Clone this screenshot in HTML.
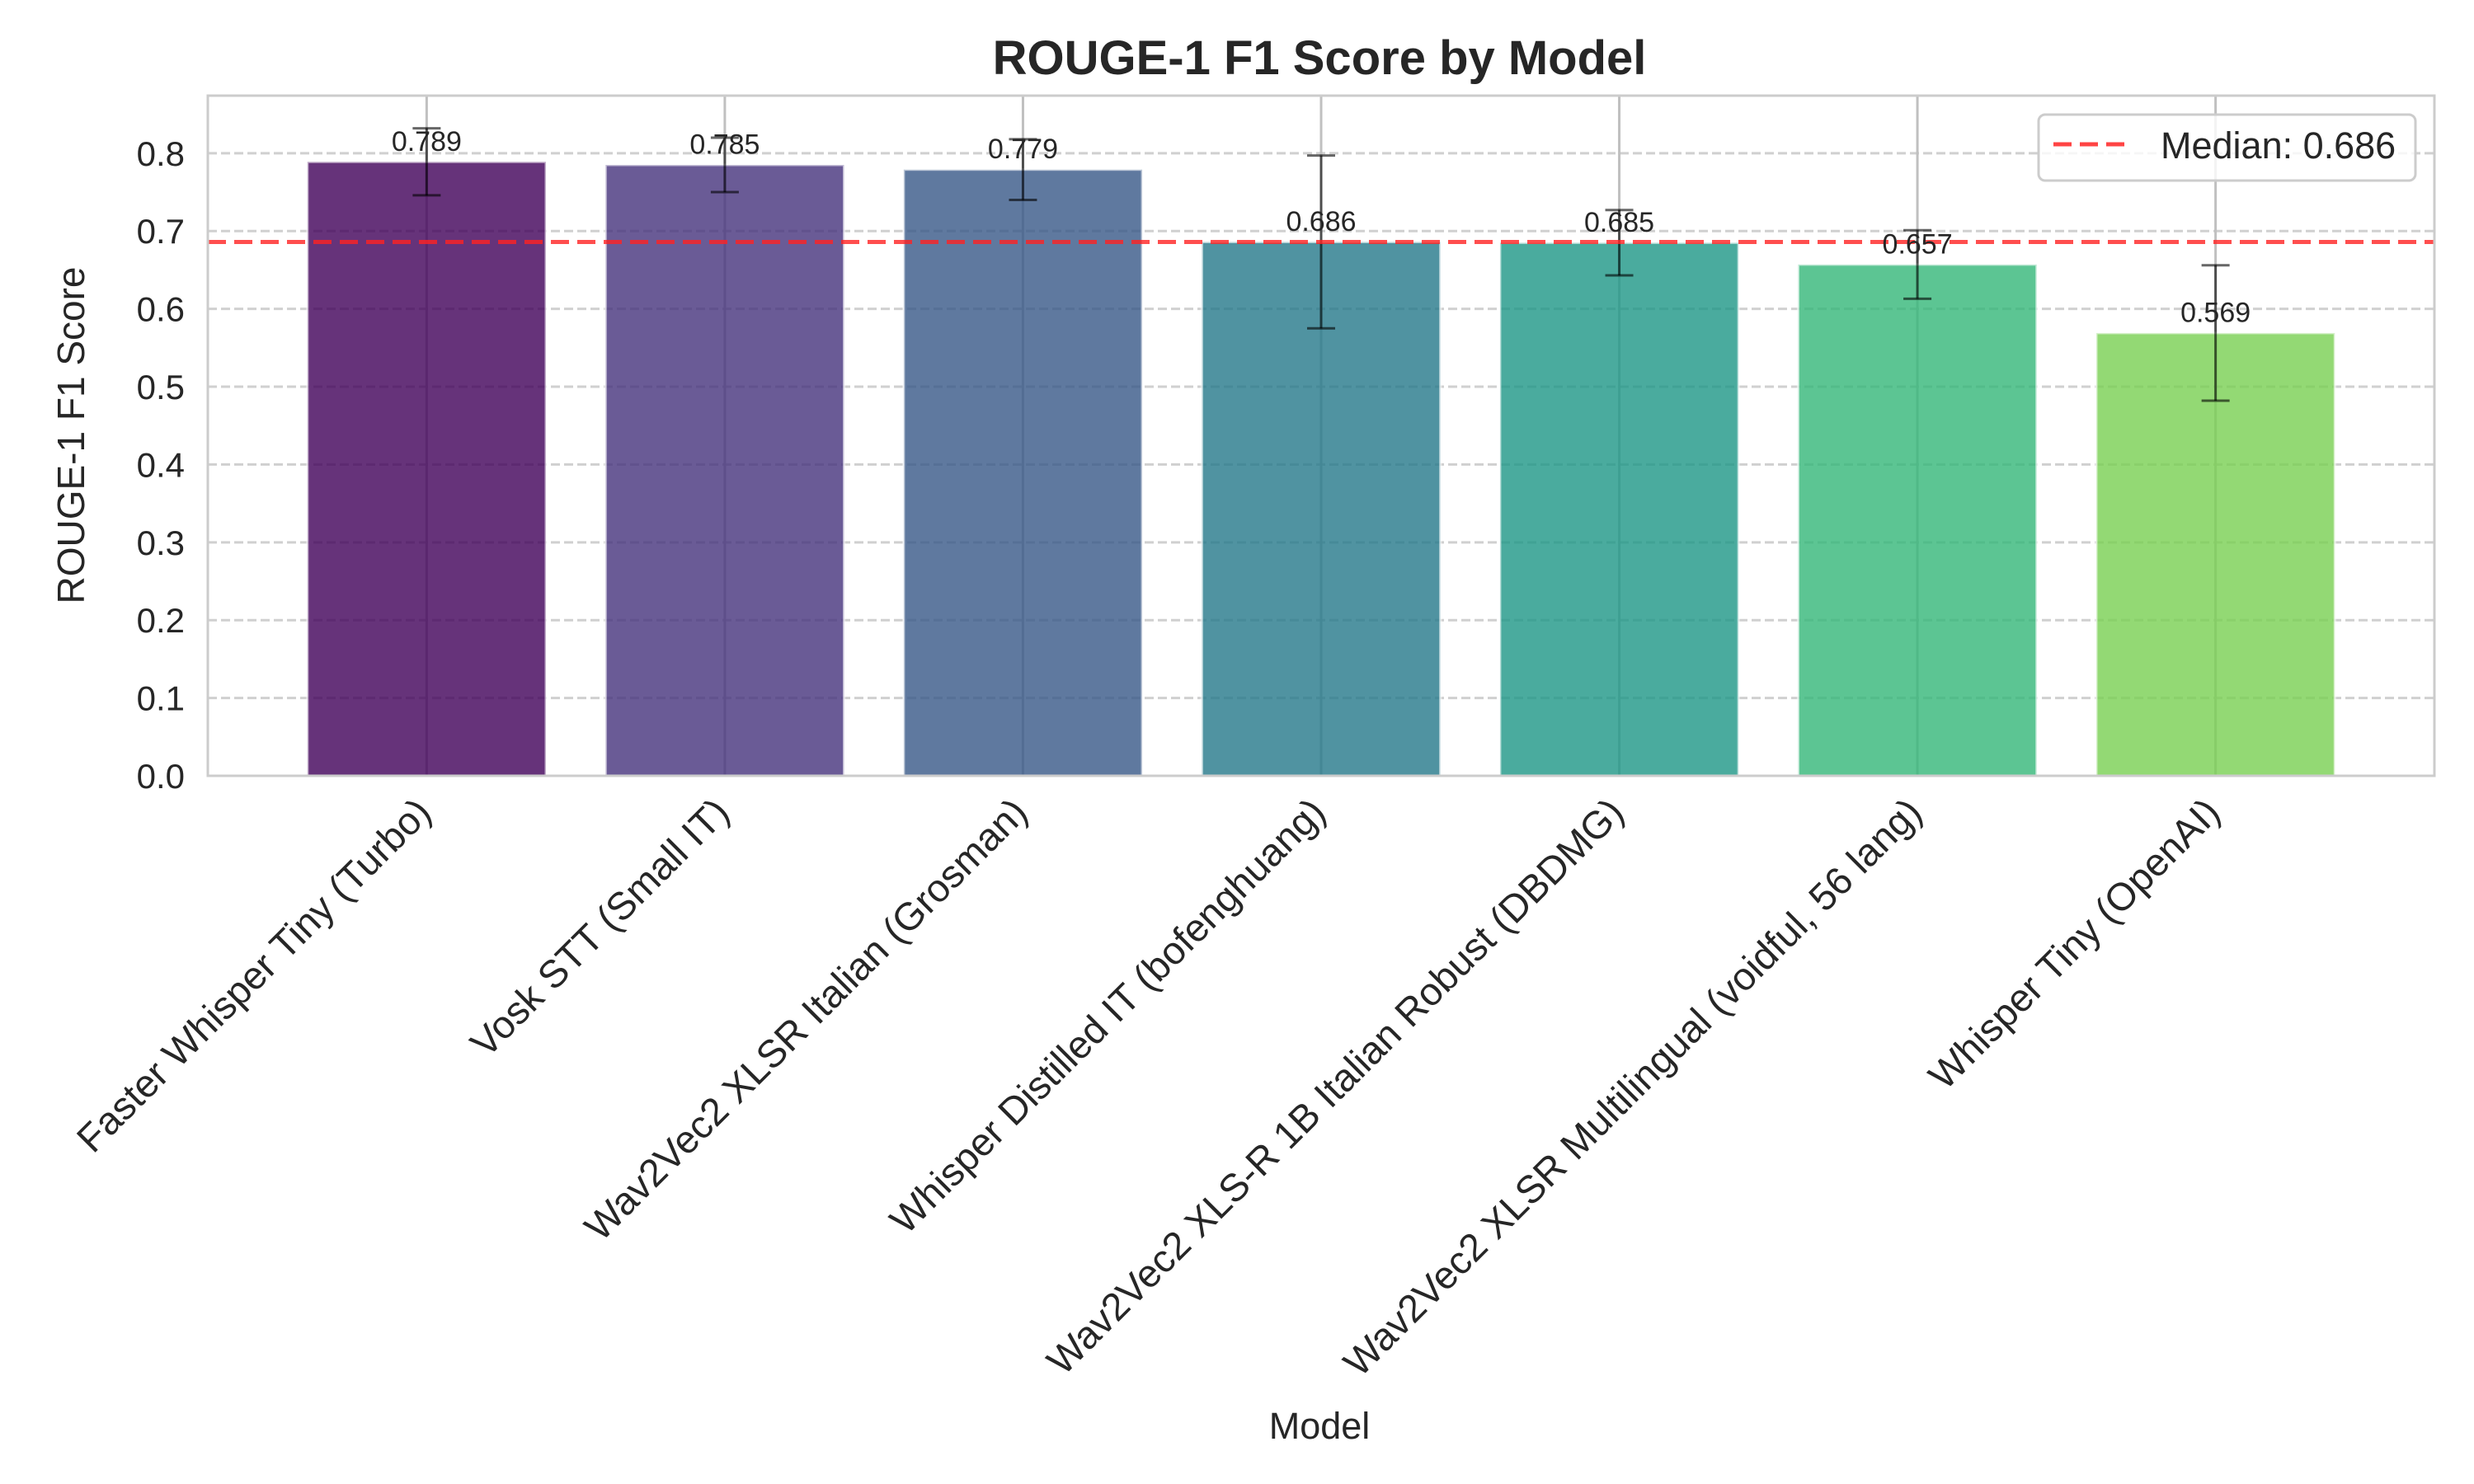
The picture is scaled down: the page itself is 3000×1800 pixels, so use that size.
<!DOCTYPE html>
<html><head><meta charset="utf-8"><style>
html,body{margin:0;padding:0;background:#fff;}
svg{display:block;font-family:"Liberation Sans",Arial,sans-serif;}
</style></head><body>
<svg id="chart" width="3000" height="1800" viewBox="0 0 3000 1800" xmlns="http://www.w3.org/2000/svg">
<rect width="3000" height="1800" fill="#fff"/>
<text x="1600" y="90" text-anchor="middle" font-size="58" font-weight="bold" fill="#262626">ROUGE-1 F1 Score by Model</text>
<text transform="translate(102,528) rotate(-90)" text-anchor="middle" font-size="46" fill="#262626">ROUGE-1 F1 Score</text>
<text x="1600" y="1745" text-anchor="middle" font-size="45" fill="#262626">Model</text>
<g id="grid"></g><g id="bars"></g><g id="labels"></g>
<g>
<rect x="2472" y="139" width="457" height="80" rx="8" fill="#fff" fill-opacity="0.8" stroke="#cccccc" stroke-width="3"/>
<line x1="2490" y1="175" x2="2582" y2="175" stroke="#ff4444" stroke-width="5" stroke-dasharray="22,10"/>
<text x="2620" y="192" font-size="45" fill="#262626">Median: 0.686</text>
</g>
</svg>
<script>
const categories = ["Faster Whisper Tiny (Turbo)","Vosk STT (Small IT)","Wav2Vec2 XLSR Italian (Grosman)","Whisper Distilled IT (bofenghuang)","Wav2Vec2 XLS-R 1B Italian Robust (DBDMG)","Wav2Vec2 XLSR Multilingual (voidful, 56 lang)","Whisper Tiny (OpenAI)"];
const values = [0.789,0.785,0.779,0.686,0.685,0.657,0.569];
const errors = [0.043,0.035,0.039,0.111,0.042,0.044,0.087];
const valueLabels = ["0.789","0.785","0.779","0.686","0.685","0.657","0.569"];
const medianValue = 0.686;
const yTicks = [0,0.1,0.2,0.3,0.4,0.5,0.6,0.7,0.8];
const yTickLabels = ["0.0","0.1","0.2","0.3","0.4","0.5","0.6","0.7","0.8"];
const colors = ["#400059","#45327c","#375787","#24788a","#1d9686","#33b778","#78d051"];

const NS="http://www.w3.org/2000/svg";
const L=252,R=2952,T=116,B=941;
const xmin=-0.734,xmax=6.734,ymin=0,ymax=0.874;
const xs=v=>L+(v-xmin)/(xmax-xmin)*(R-L);
const ys=v=>B-(v-ymin)/(ymax-ymin)*(B-T);
function mk(tag,attrs,parent){const e=document.createElementNS(NS,tag);for(const k in attrs)e.setAttribute(k,attrs[k]);parent.appendChild(e);return e;}
const grid=document.getElementById('grid'),bars=document.getElementById('bars'),labels=document.getElementById('labels');
yTicks.forEach((t,i)=>{
  const g=mk('line',{x1:L,x2:R,y1:ys(t),y2:ys(t),stroke:'#d0d0d0','stroke-width':3,'stroke-dasharray':'11,5'},grid);
  
  
  const tx=mk('text',{x:224,y:ys(t)+15,'text-anchor':'end','font-size':42,fill:'#262626'},labels);
  tx.textContent=yTickLabels[i];
  
  
});
categories.forEach((c,i)=>{
  const cx=xs(i);
  const gl=mk('line',{x1:cx,x2:cx,y1:T,y2:B,stroke:'#c0c0c0','stroke-width':3},grid);
  
  
});
categories.forEach((c,i)=>{
  const cx=xs(i),w=xs(0.4)-xs(-0.4);
  const b=mk('rect',{x:cx-w/2,y:ys(values[i]),width:w,height:ys(0)-ys(values[i]),fill:colors[i],'fill-opacity':0.8,stroke:'#ffffff','stroke-opacity':0.6,'stroke-width':3},bars);
  
  
  const eg=mk('g',{stroke:'#000','stroke-opacity':0.6,'stroke-width':3},bars);
  
  
  const hi=Math.min(values[i]+errors[i],ymax),lo=values[i]-errors[i];
  mk('line',{x1:cx,x2:cx,y1:ys(hi),y2:ys(lo)},eg);
  if(values[i]+errors[i]<=ymax) mk('line',{x1:cx-17,x2:cx+17,y1:ys(values[i]+errors[i]),y2:ys(values[i]+errors[i])},eg);
  mk('line',{x1:cx-17,x2:cx+17,y1:ys(lo),y2:ys(lo)},eg);
  const vt=mk('text',{x:cx,y:ys(values[i]+0.01)-4,'text-anchor':'middle','font-size':34,fill:'#262626'},labels);
  vt.textContent=valueLabels[i];
  
  
  const xt=mk('text',{transform:`translate(${cx+8},988) rotate(-45)`,'text-anchor':'end','font-size':47,fill:'#262626'},labels);
  xt.textContent=c;
  
  
});
const med=mk('line',{x1:L,x2:R,y1:ys(medianValue),y2:ys(medianValue),stroke:'#ff2222','stroke-opacity':0.8,'stroke-width':5,'stroke-dasharray':'22,10'},bars);


const fr=mk('rect',{x:L,y:T,width:R-L,height:B-T,fill:'none',stroke:'#cccccc','stroke-width':3},bars);


</script>
</body></html>
